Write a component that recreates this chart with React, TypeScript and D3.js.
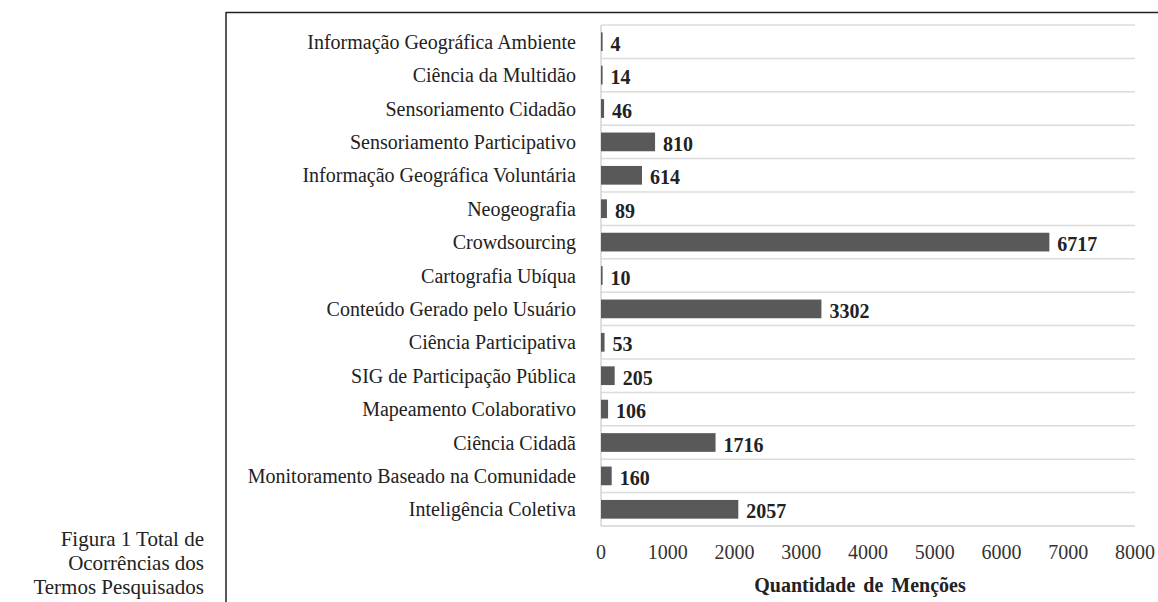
import React from 'react';
import * as d3 from 'd3';

const categories = [
  'Informação Geográfica Ambiente',
  'Ciência da Multidão',
  'Sensoriamento Cidadão',
  'Sensoriamento Participativo',
  'Informação Geográfica Voluntária',
  'Neogeografia',
  'Crowdsourcing',
  'Cartografia Ubíqua',
  'Conteúdo Gerado pelo Usuário',
  'Ciência Participativa',
  'SIG de Participação Pública',
  'Mapeamento Colaborativo',
  'Ciência Cidadã',
  'Monitoramento Baseado na Comunidade',
  'Inteligência Coletiva',
];
const mentions = [4, 14, 46, 810, 614, 89, 6717, 10, 3302, 53, 205, 106, 1716, 160, 2057];
const xTicks = [0, 1000, 2000, 3000, 4000, 5000, 6000, 7000, 8000];
const captionLines = ['Figura 1 Total de', 'Ocorrências dos', 'Termos Pesquisados'];
const axisTitle = 'Quantidade de Menções';

const W = 1158;
const H = 602;
const font = '"Liberation Serif", "Times New Roman", serif';

export default function App() {
  const x = d3.scaleLinear().domain([0, 8000]).range([601, 1135]);
  const y = d3.scaleBand().domain(categories).range([25, 526]).paddingInner(0.44).paddingOuter(0.22);
  const step = y.step();
  const bandTop = (c: string) => (y(c) as number) - (step - y.bandwidth()) / 2;
  const mid = (c: string) => (y(c) as number) + y.bandwidth() / 2;

  return (
    <svg width={W} height={H} style={{ position: 'absolute', left: 0, top: 0, background: '#fff' }}>
      {/* frame */}
      <line x1={226} x2={W} y1={12.5} y2={12.5} stroke="#222" strokeWidth={1.5} />
      <line x1={226} x2={226} y1={12} y2={H} stroke="#222" strokeWidth={1.5} />

      {/* caption */}
      {captionLines.map((t, i) => (
        <text key={t} x={204} y={546 + i * 24} textAnchor="end" fontFamily={font} fontSize={21} fill="#222">
          {t}
        </text>
      ))}

      {/* gridlines between categories */}
      {categories.map((c) => (
        <line key={'g' + c} x1={x(0)} x2={x(8000)} y1={bandTop(c)} y2={bandTop(c)} stroke="#dcdcdc" strokeWidth={1.5} />
      ))}
      <line x1={x(0)} x2={x(8000)} y1={526} y2={526} stroke="#d4d4d4" strokeWidth={1.5} />
      <line x1={x(0)} x2={x(0)} y1={25} y2={526} stroke="#d4d4d4" strokeWidth={1.5} />

      {/* bars */}
      {categories.map((c, i) => (
        <g key={c}>
          <rect
            x={x(0)}
            y={y(c)}
            width={Math.max(1.6, x(mentions[i]) - x(0))}
            height={y.bandwidth()}
            fill="#595959"
          />
          <text x={x(0) - 25} y={mid(c)} dy="0.35em" textAnchor="end" fontFamily={font} fontSize={20} fill="#222">
            {c}
          </text>
          <text
            x={Math.max(x(0) + 1.6, x(mentions[i])) + 8}
            y={mid(c) + 2}
            dy="0.35em"
            fontFamily={font}
            fontSize={20}
            fontWeight="bold"
            fill="#222"
          >
            {mentions[i]}
          </text>
        </g>
      ))}

      {/* x axis ticks */}
      {xTicks.map((t) => (
        <text key={t} x={x(t)} y={552} dy="0.35em" textAnchor="middle" fontFamily={font} fontSize={20} fill="#333">
          {t}
        </text>
      ))}
      <text x={860} y={585} dy="0.35em" textAnchor="middle" fontFamily={font} fontSize={20} fontWeight="bold" fill="#222" wordSpacing={3}>
        {axisTitle}
      </text>
    </svg>
  );
}
